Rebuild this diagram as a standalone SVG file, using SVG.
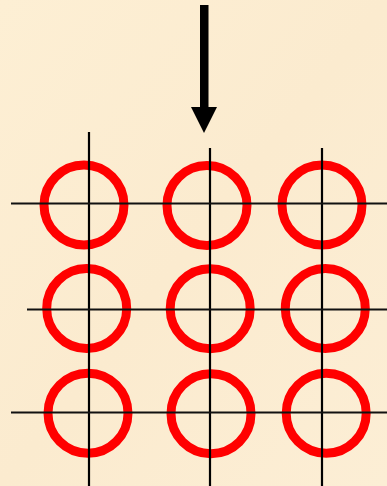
<svg xmlns="http://www.w3.org/2000/svg" width="387" height="486" viewBox="0 0 387 486">
<defs>
<linearGradient id="bg" x1="0" y1="0" x2="1" y2="1">
<stop offset="0" stop-color="#FDEFD4"/>
<stop offset="0.5" stop-color="#FBEBCF"/>
<stop offset="1" stop-color="#FCEED5"/>
</linearGradient>
<style>
.ring{fill:none;stroke:#FF0000;stroke-width:9}
.v{stroke:#000;stroke-width:2.2}
.h{stroke:#111;stroke-width:2}
</style>
</defs>
<rect width="387" height="486" fill="url(#bg)"/>
<g id="r1c1"><circle class="ring" cx="84" cy="205" r="40"/></g>
<g id="r1c2"><circle class="ring" cx="207" cy="205.5" r="40"/></g>
<g id="r1c3"><circle class="ring" cx="322" cy="205" r="40"/></g>
<g id="r2c1"><circle class="ring" cx="86.7" cy="308.5" r="40"/></g>
<g id="r2c2"><circle class="ring" cx="210.2" cy="308.7" r="40"/></g>
<g id="r2c3"><circle class="ring" cx="325.3" cy="308.5" r="40"/></g>
<g id="r3c1"><circle class="ring" cx="88" cy="413.2" r="40"/></g>
<g id="r3c2"><circle class="ring" cx="211" cy="413.7" r="40"/></g>
<g id="r3c3"><circle class="ring" cx="326.2" cy="413.2" r="40"/></g>
<g id="grid-lines">
<line class="v" x1="89" y1="132" x2="89" y2="486"/>
<line class="v" x1="210" y1="148" x2="210" y2="486"/>
<line class="v" x1="322" y1="148" x2="322" y2="486"/>
<line class="h" x1="11" y1="203.5" x2="387" y2="203.5"/>
<line class="h" x1="27" y1="309.5" x2="387" y2="309.5"/>
<line class="h" x1="11" y1="412.5" x2="387" y2="412.5"/>
</g>
<g id="arrow">
<rect x="200" y="5" width="8.5" height="103" fill="#000"/>
<polygon points="191,107 217,107 204,133" fill="#000"/>
</g>
</svg>
